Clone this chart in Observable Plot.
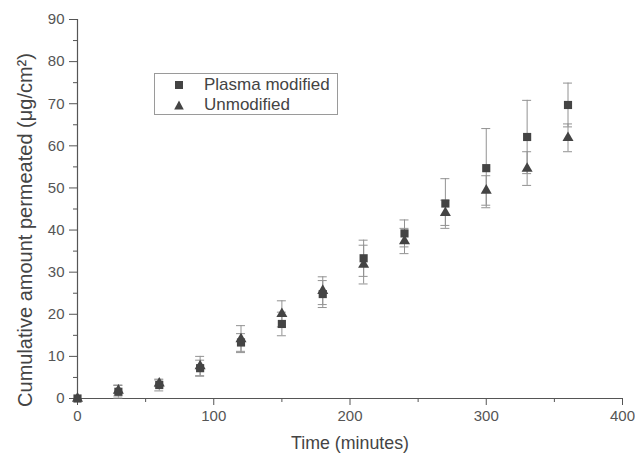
<!DOCTYPE html>
<html>
<head>
<meta charset="utf-8">
<script src="https://cdn.jsdelivr.net/npm/d3@7"></script>
<script src="https://cdn.jsdelivr.net/npm/@observablehq/plot@0.6"></script>
<style>
  body { margin: 0; background: white; }
  #wrap { position: relative; width: 635px; height: 454px; font-family: "Liberation Sans", Arial, sans-serif; }
  #legend { position: absolute; left: 154px; top: 73px; width: 184px; height: 42px; border: 1px solid #9a9a9a; background: white; box-sizing: border-box; font-size: 17px; color: #444; }
  #legend .row { position: absolute; left: 0; height: 20px; display: flex; align-items: center; }
  #legend svg { margin-left: 19px; margin-right: 20px; }
</style>
</head>
<body>
<div id="wrap"></div>
<script>
const times = [0, 30, 60, 90, 120, 150, 180, 210, 240, 270, 300, 330, 360];
const plasma = [0, 1.6, 3.2, 7.2, 13.3, 17.7, 24.8, 33.3, 39.2, 46.3, 54.7, 62.1, 69.7];
const plasmaErr = [0, 1.5, 1.4, 1.9, 2.1, 2.8, 3.2, 4.3, 3.2, 5.9, 9.4, 8.7, 5.2];
const unmod = [0, 1.9, 3.6, 7.7, 14.1, 20.1, 25.6, 31.8, 37.4, 44.1, 49.4, 54.6, 61.9];
const unmodErr = [0, 1.3, 0.8, 2.3, 3.2, 3.1, 3.3, 4.6, 3.0, 3.0, 3.5, 4.0, 3.3];
const seriesNames = ["Plasma modified", "Unmodified"];
const yMajor = d3.range(0, 91, 10);
const yMinor = d3.range(5, 90, 10);
const xMajor = d3.range(0, 401, 100);
const xMinor = d3.range(50, 400, 100);

const rows = times.flatMap((t, i) => [
  {t, v: plasma[i], e: plasmaErr[i], s: seriesNames[0]},
  {t, v: unmod[i], e: unmodErr[i], s: seriesNames[1]}
]);
const capHalf = 3.3;
const markColor = "#444";
const errColor = "#929292";
const axisColor = "#555";

const chart = Plot.plot({
  width: 635, height: 454,
  marginLeft: 77, marginRight: 13, marginTop: 19, marginBottom: 56,
  style: {fontFamily: "'Liberation Sans', Arial, sans-serif", fontSize: "15px", color: "#555", background: "white"},
  x: {domain: [0, 400]},
  y: {domain: [0, 90]},
  marks: [
    Plot.axisY({ticks: yMajor, tickSize: 8, tickPadding: 5, label: null, stroke: axisColor, fontSize: 15}),
    Plot.axisY({ticks: yMinor, tickSize: 4, text: null, label: null, stroke: axisColor}),
    Plot.axisX({ticks: xMajor, tickSize: 7, tickPadding: 5, label: null, stroke: axisColor, fontSize: 15}),
    Plot.axisX({ticks: xMinor, tickSize: 4, text: null, label: null, stroke: axisColor}),
    Plot.ruleX([0], {stroke: axisColor, strokeWidth: 1.2}),
    Plot.ruleY([0], {stroke: axisColor, strokeWidth: 1.2}),
    Plot.text(["Cumulative amount permeated (μg/cm²)"], {frameAnchor: "left", textAnchor: "middle", lineAnchor: "middle", rotate: -90, dx: -52, dy: 21, fontSize: 20, fill: "#444"}),
    Plot.text(["Time (minutes)"], {frameAnchor: "bottom", lineAnchor: "middle", dy: 45, fontSize: 17.8, fill: "#444"}),
    Plot.ruleX(rows.filter(d => d.e > 0), {x: "t", y1: d => d.v - d.e, y2: d => d.v + d.e, stroke: errColor}),
    Plot.ruleY(rows.filter(d => d.e > 0), {y: d => d.v + d.e, x1: d => d.t - capHalf, x2: d => d.t + capHalf, stroke: errColor}),
    Plot.ruleY(rows.filter(d => d.e > 0), {y: d => d.v - d.e, x1: d => d.t - capHalf, x2: d => d.t + capHalf, stroke: errColor}),
    Plot.dot(rows.filter(d => d.s === seriesNames[0]), {x: "t", y: "v", symbol: "square", r: 4.6, fill: markColor, stroke: "none"}),
    Plot.dot(rows.filter(d => d.s === seriesNames[1]), {x: "t", y: "v", symbol: "triangle", r: 4.1, fill: markColor, stroke: "none"})
  ]
});
const wrap = document.getElementById("wrap");
wrap.appendChild(chart);

const legend = document.createElement("div");
legend.id = "legend";
const symSquare = '<svg width="10" height="10"><rect x="1" y="1" width="8" height="8" fill="' + markColor + '"/></svg>';
const symTri = '<svg width="10" height="10"><path d="M5,0.5L9.8,9.5L0.2,9.5Z" fill="' + markColor + '"/></svg>';
legend.innerHTML =
  '<div class="row" style="top:1px">' + symSquare + '<span>' + seriesNames[0] + '</span></div>' +
  '<div class="row" style="top:21px">' + symTri + '<span>' + seriesNames[1] + '</span></div>';
wrap.appendChild(legend);
</script>
</body>
</html>
